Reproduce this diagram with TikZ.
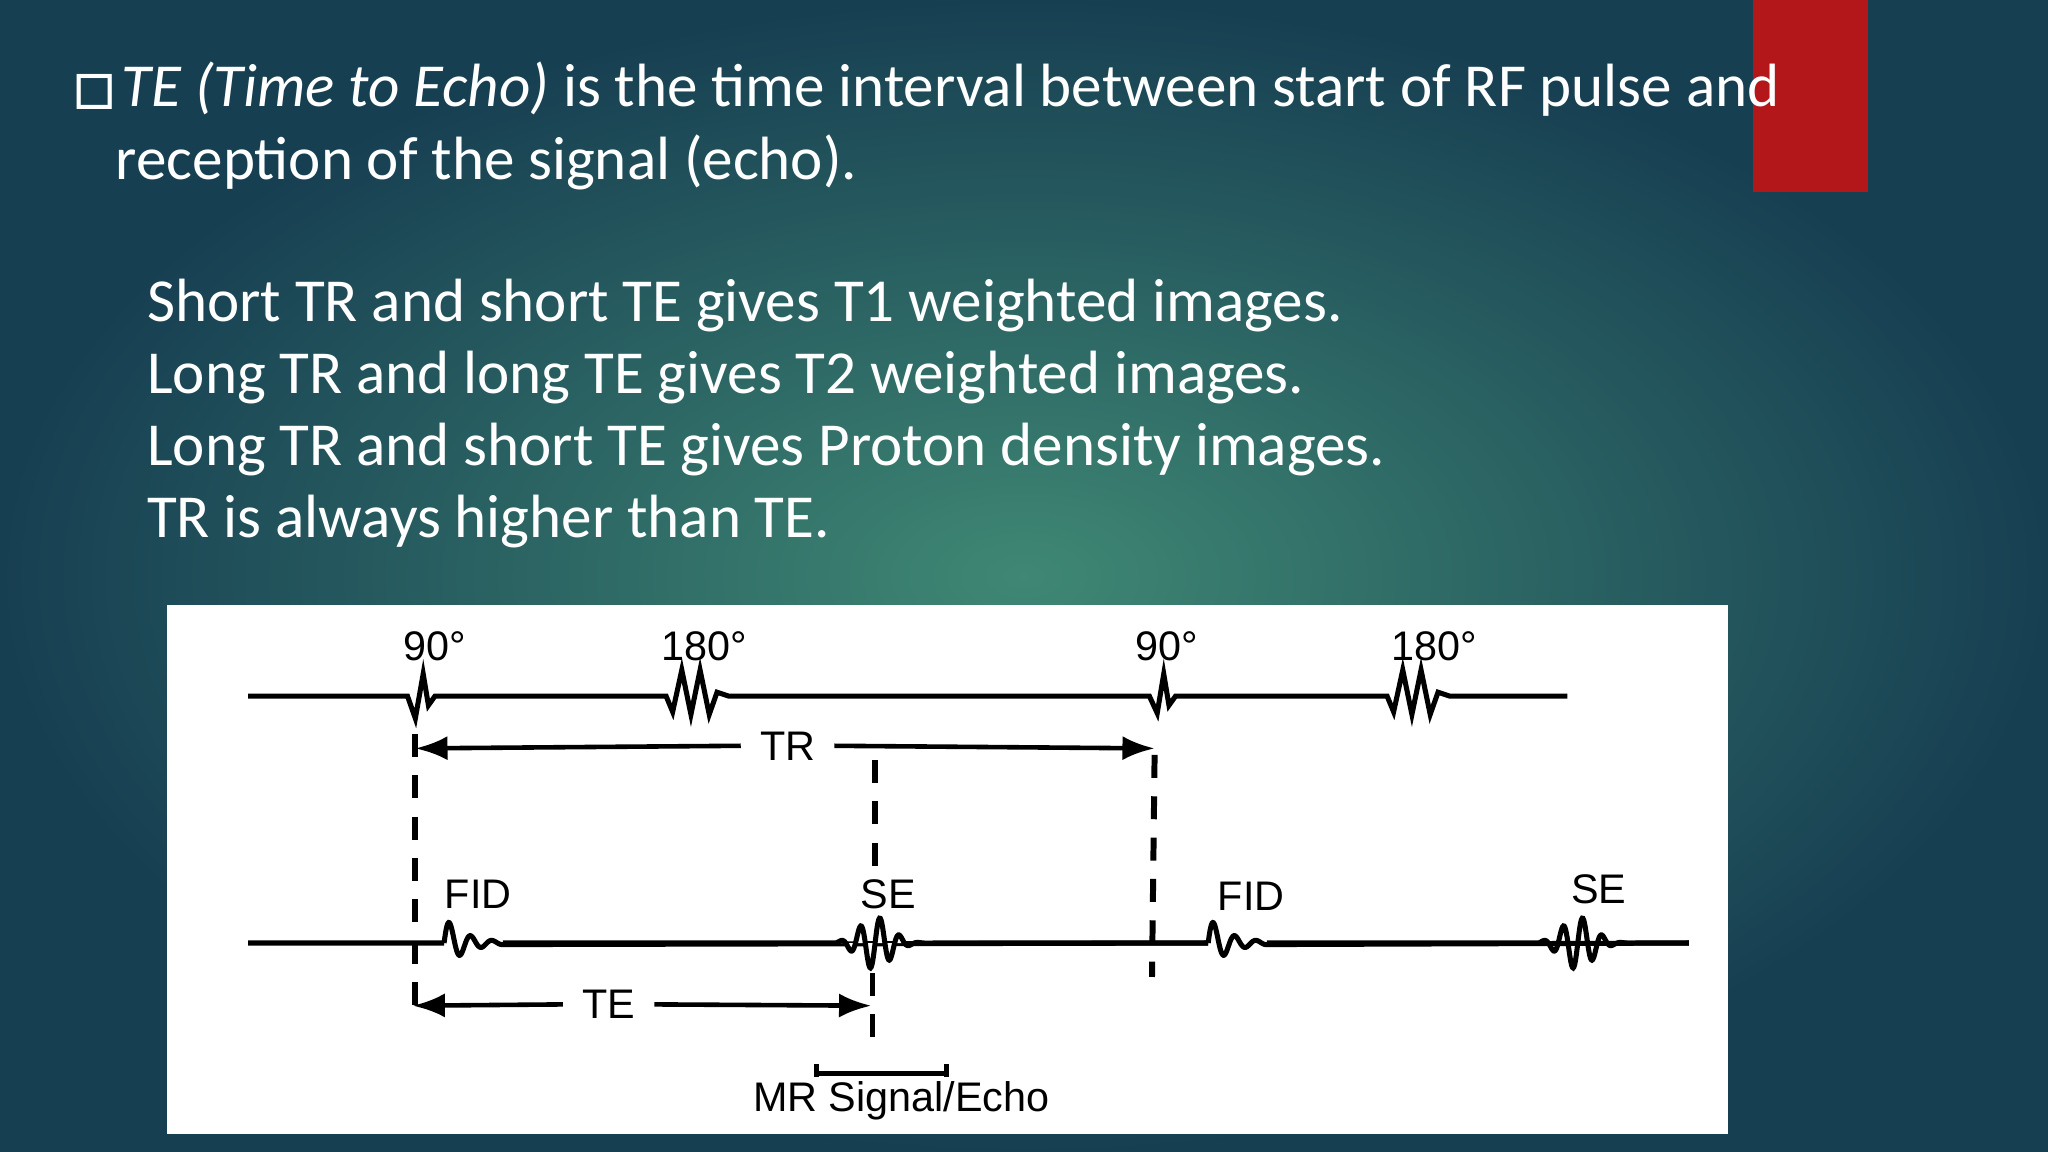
\documentclass[tikz,border=0pt]{standalone}
\usepackage{fontspec}
\setmainfont{Carlito}
\newfontfamily\arial{Liberation Sans}
\usetikzlibrary{arrows.meta}
\definecolor{bgin}{HTML}{3F8874}
\definecolor{bgout}{HTML}{173F52}
\definecolor{redbar}{HTML}{B3171A}
\tikzset{
 wave/.style={line width=1.1pt,black},
 vdash/.style={line width=1.3pt,dash pattern=on 5pt off 4pt},
 arr/.style={line width=1pt,-{Latex[length=7pt]}},
 lab/.style={font=\arial\fontsize{9}{10}\selectfont,inner sep=1pt},
 body/.style={font=\fontsize{13.3}{16}\selectfont,text=white,anchor=west,inner sep=0pt}
}
\begin{document}
\begin{tikzpicture}[x=0.01cm,y=-0.01cm]
\useasboundingbox (0,0) rectangle (1568,882);
\shade[inner color=bgin,outer color=bgout] (0,0) rectangle (1568,882);
\fill[redbar] (1342,0) rectangle (1430,147);
\node[body] (l1) at (55,68) {\raisebox{-0.05em}{\fontsize{16}{16}\selectfont\symbol{"25A1}}\kern1pt\textit{TE (Time to Echo)} is the time interval between start of RF pulse and};
\node[body] (l2) at (88,124) {reception of the signal (echo).};
\node[body] (s1) at (112,234) {Short TR and short TE gives T1 weighted images.};
\node[body] (s2) at (112,289) {Long TR and long TE gives T2 weighted images.};
\node[body] (s3) at (112,344) {Long TR and short TE gives Proton density images.};
\node[body] (s4) at (112,399) {TR is always higher than TE.};
\fill[white] (128,463) rectangle (1323,868);
% top line
\draw[wave] (190,533) -- (312,533) -- (318,550) -- (324,516) -- (328,540) -- (333,533) -- (510,533)
  -- (515,545) -- (522,513) -- (529,547) -- (536,513) -- (543,547) -- (549,530) -- (558,533) -- (880,533)
  -- (886,546) -- (891,516) -- (895,540) -- (900,533) -- (1062,533)
  -- (1067,545) -- (1074,513) -- (1081,547) -- (1088,513) -- (1095,547) -- (1101,530) -- (1110,533) -- (1200,533);
% bottom line
\draw[wave] (190,722) -- (340,722)
  plot[domain=0:45,samples=90] ({340+\x},{722-20*exp(-\x/16)*sin(\x*22)}) -- (925,722)
  plot[domain=0:45,samples=90] ({925+\x},{722-20*exp(-\x/16)*sin(\x*22)}) -- (1293,722);
\draw[wave,fill=white] (385,722) -- (640,722)
  plot[domain=0:80,samples=140] ({640+\x},{722-20*exp(-((\x-30)/17)^2)*sin(\x*24)}) -- (925,722);
\draw[wave] (970,722) -- (1178,722)
  plot[domain=0:80,samples=140] ({1178+\x},{722-20*exp(-((\x-30)/17)^2)*sin(\x*24)}) -- (1293,722);
\node[lab] (a1) at (333,495) {90°};
\node[lab] (a2) at (539,495) {180°};
\node[lab] (a3) at (893,495) {90°};
\node[lab] (a4) at (1098,495) {180°};
\node[lab] (fid1) at (366,685) {FID};
\node[lab] (se1) at (680,685) {SE};
\node[lab] (fid2) at (958,686) {FID};
\node[lab] (se2) at (1224,681) {SE};
\coordinate (d1t) at (318,562); \coordinate (d1b) at (318,776);
\coordinate (d2t) at (670,582); \coordinate (d2m) at (670,668);
\coordinate (d2c) at (668,745); \coordinate (d2b) at (668,800);
\coordinate (d3t) at (884,578); \coordinate (d3b) at (882,748);
\draw[vdash] (d1t) -- (d1b);
\draw[vdash] (d2t) -- (d2m);
\draw[vdash] (d2c) -- (d2b);
\draw[vdash] (d3t) -- (d3b);
\node[lab,fill=white,inner xsep=4pt] (tr) at (603,571) {TR};
\draw[arr] (tr.west) -- (318,573);
\draw[arr] (tr.east) -- (884,573);
\node[lab,fill=white,inner xsep=4pt] (te) at (466,769) {TE};
\draw[arr] (te.west) -- (316,770);
\draw[arr] (te.east) -- (667,770);
\coordinate (b1) at (625,822); \coordinate (b2) at (725,822);
\draw[line width=1.1pt] (b1) -- (b2) (625,815) -- (625,829) (725,815) -- (725,829);
\node[lab,fill=white] (mr) at (690,843) {MR Signal/Echo};
\end{tikzpicture}
\end{document}
